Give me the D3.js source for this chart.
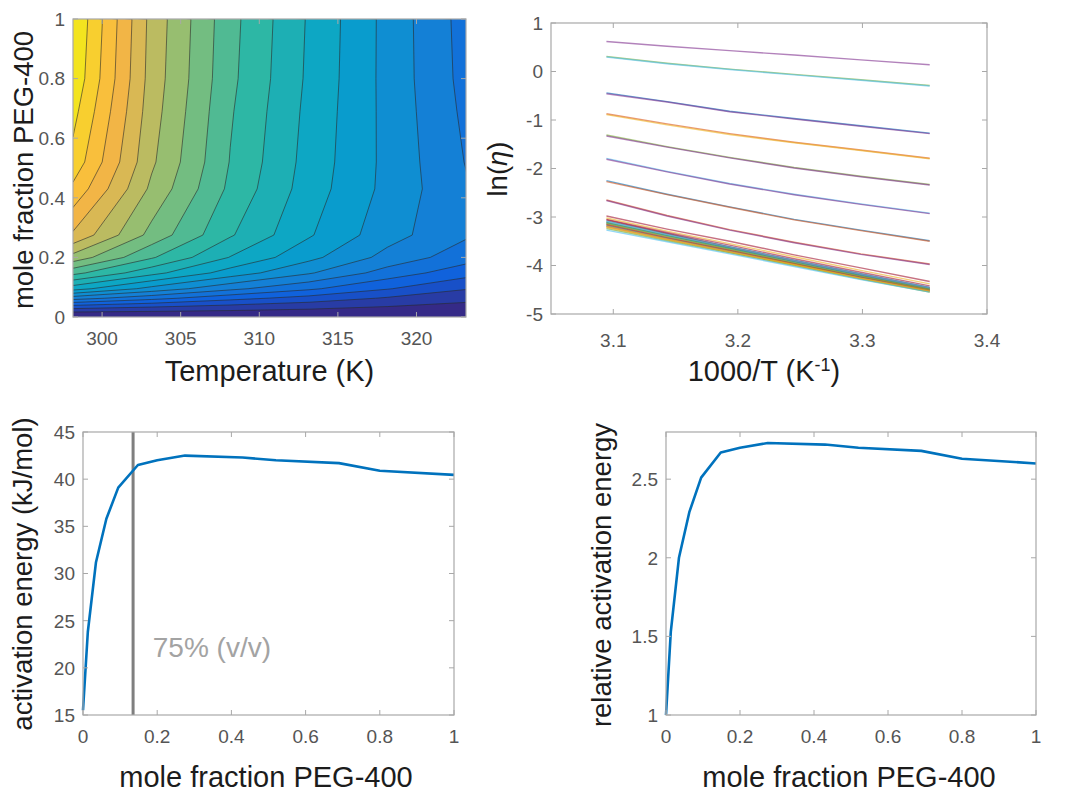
<!DOCTYPE html>
<html>
<head>
<meta charset="utf-8">
<script src="https://cdn.jsdelivr.net/npm/d3@7"></script>
<style>
  body { margin: 0; background: #fff; }
  svg { display: block; font-family: "Liberation Sans", Arial, Helvetica, sans-serif; }
</style>
</head>
<body>
<div class="container"></div>
<script>
// ---- data ----

// contour panel: temperatures (K) and mole fractions of PEG-400 of the grid
var temps = [298.15, 303.15, 308.15, 313.15, 318.15, 323.15];
var molFrac = [0, 0.013, 0.035, 0.063, 0.095, 0.148, 0.2, 0.275, 0.43, 0.52, 0.69, 0.8, 1];

// viscosity (mPa s), one row per temperature, one column per mole fraction
var viscosity = [
  [0.90, 3.0, 11.7, 24.5, 37.9, 50.9, 61.3, 71.3, 80.0, 84.0, 87.0, 89.0, 90.0],
  [0.80, 2.7, 9.5, 19.5, 30.0, 42.0, 50.0, 57.0, 62.0, 63.8, 65.0, 65.6, 66.0],
  [0.72, 2.5, 7.6, 15.0, 23.6, 34.0, 40.3, 45.5, 48.5, 49.3, 50.0, 50.6, 51.0],
  [0.65, 2.2, 6.0, 11.8, 18.8, 27.5, 32.8, 36.5, 38.3, 38.8, 39.3, 39.7, 40.0],
  [0.60, 2.0, 4.5, 8.5, 13.8, 20.6, 25.5, 28.8, 30.2, 30.3, 30.2, 30.1, 30.1],
  [0.55, 1.8, 3.2, 5.8, 9.3, 15.3, 20.0, 23.1, 23.0, 22.3, 21.5, 21.0, 20.7]
];
var contourLevels = [4.5, 9, 13.5, 18, 22.5, 27, 31.5, 36, 40.5, 45, 49.5, 54, 58.5, 63, 67.5, 72, 76.5, 81, 85.5];

// Arrhenius panel: 1000/T values and ln(eta) of each measured line
var invT = [3.0945, 3.1432, 3.1934, 3.2452, 3.2987, 3.3540];
var lnEta = [
  [-0.44, -0.62, -0.82, -0.97, -1.12, -1.27],
  [-0.87, -1.08, -1.28, -1.46, -1.62, -1.79],
  [-0.89, -1.10, -1.30, -1.47, -1.63, -1.80],
  [0.62, 0.52, 0.43, 0.34, 0.24, 0.14],
  [0.31, 0.17, 0.05, -0.06, -0.17, -0.29],
  [0.30, 0.16, 0.04, -0.07, -0.18, -0.30],
  [-2.98, -3.25, -3.50, -3.78, -4.05, -4.33],
  [-2.25, -2.53, -2.79, -3.05, -3.27, -3.49],
  [-2.27, -2.54, -2.80, -3.06, -3.28, -3.50],
  [-3.02, -3.29, -3.55, -3.82, -4.10, -4.38],
  [-0.46, -0.63, -0.83, -0.98, -1.13, -1.28],
  [-1.31, -1.55, -1.77, -1.98, -2.16, -2.33],
  [-1.79, -2.06, -2.31, -2.53, -2.73, -2.92],
  [-3.05, -3.32, -3.58, -3.86, -4.14, -4.42],
  [-3.08, -3.35, -3.61, -3.89, -4.17, -4.45],
  [-2.65, -2.97, -3.26, -3.52, -3.76, -3.97],
  [-3.10, -3.37, -3.63, -3.91, -4.19, -4.47],
  [-2.66, -2.98, -3.27, -3.53, -3.77, -3.98],
  [-3.12, -3.39, -3.65, -3.93, -4.21, -4.49],
  [-3.14, -3.41, -3.67, -3.95, -4.23, -4.50],
  [-3.16, -3.43, -3.69, -3.96, -4.24, -4.51],
  [-3.18, -3.44, -3.70, -3.97, -4.25, -4.52],
  [-3.20, -3.46, -3.72, -3.98, -4.26, -4.53],
  [-3.22, -3.47, -3.73, -3.99, -4.27, -4.54],
  [-1.81, -2.07, -2.32, -2.54, -2.74, -2.93],
  [-3.24, -3.49, -3.74, -4.00, -4.28, -4.55],
  [-3.27, -3.51, -3.76, -4.02, -4.29, -4.55],
  [-3.06, -3.34, -3.62, -3.90, -4.18, -4.46],
  [-3.11, -3.38, -3.64, -3.92, -4.20, -4.48],
  [-3.15, -3.42, -3.68, -3.96, -4.23, -4.50],
  [-3.19, -3.45, -3.71, -3.98, -4.26, -4.52],
  [-1.33, -1.56, -1.78, -1.99, -2.17, -2.34],
  [-3.13, -3.40, -3.66, -3.94, -4.22, -4.49],
  [-3.09, -3.36, -3.62, -3.90, -4.18, -4.46]
];

// activation energy vs mole fraction
var eaFrac = [0, 0.013, 0.035, 0.063, 0.095, 0.148, 0.2, 0.275, 0.43, 0.52, 0.69, 0.8, 1];
var activationEnergy = [15.5, 23.8, 31.2, 35.8, 39.1, 41.5, 42.0, 42.5, 42.3, 42.0, 41.7, 40.9, 40.45];
var relativeEnergy = [1.0, 1.53, 2.0, 2.29, 2.51, 2.67, 2.70, 2.73, 2.72, 2.70, 2.68, 2.63, 2.60];
var markerFrac = 0.135;   // 75% (v/v)

// tick values
var tempTicks = [300, 305, 310, 315, 320];
var fracTicks = [0, 0.2, 0.4, 0.6, 0.8, 1];
var invTTicks = [3.1, 3.2, 3.3, 3.4];
var lnTicks = [-5, -4, -3, -2, -1, 0, 1];
var eaTicks = [15, 20, 25, 30, 35, 40, 45];
var relTicks = [1, 1.5, 2, 2.5];

// ---- styles ----
// parula-like colormap, stop positions and colours
var parulaPos = [0, 0.125, 0.25, 0.375, 0.5, 0.625, 0.72, 0.8, 0.87, 0.94, 1];
var parulaCol = ["#352a87", "#0f5cdd", "#1481d6", "#06a4ca", "#2eb7a4", "#87bf77", "#cbba5b", "#f3b546", "#fcc338", "#f2e022", "#f9fb0e"];
var matlabColors = ["#0072bd", "#d95319", "#edb120", "#7e2f8e", "#77ac30", "#4dbeee", "#a2142f"];
var frameColor = "#a8a8a8";
var tickText = "#555";
var labelText = "#1c1c1c";

var svg = d3.select(".container").append("svg").attr("width", 1077).attr("height", 792);
var defs = svg.append("defs");

// draws the box, inward ticks on all four sides and tick labels
function drawAxes(x, y, xticks, yticks, xLabelY) {
  var x0 = x.range()[0], x1 = x.range()[1], yb = y.range()[0], yt = y.range()[1];
  var g = svg.append("g");
  g.append("rect")
    .attr("x", x0).attr("y", yt).attr("width", x1 - x0).attr("height", yb - yt)
    .attr("fill", "none").attr("stroke", frameColor).attr("stroke-width", 1.2);
  var tl = 5;
  xticks.forEach(function(v) {
    g.append("line").attr("x1", x(v)).attr("x2", x(v)).attr("y1", yb).attr("y2", yb - tl).attr("stroke", frameColor);
    g.append("line").attr("x1", x(v)).attr("x2", x(v)).attr("y1", yt).attr("y2", yt + tl).attr("stroke", frameColor);
    g.append("text").attr("x", x(v)).attr("y", xLabelY).attr("text-anchor", "middle")
      .attr("font-size", 19).attr("fill", tickText).text(String(v));
  });
  yticks.forEach(function(v) {
    g.append("line").attr("x1", x0).attr("x2", x0 + tl).attr("y1", y(v)).attr("y2", y(v)).attr("stroke", frameColor);
    g.append("line").attr("x1", x1).attr("x2", x1 - tl).attr("y1", y(v)).attr("y2", y(v)).attr("stroke", frameColor);
    g.append("text").attr("x", x0 - 8).attr("y", y(v)).attr("dy", "0.36em").attr("text-anchor", "end")
      .attr("font-size", 19).attr("fill", tickText).text(String(v));
  });
  return g;
}

function xLabel(cx, y, txt) {
  return svg.append("text").attr("x", cx).attr("y", y).attr("text-anchor", "middle")
    .attr("font-size", 29).attr("fill", labelText).text(txt);
}

function yLabel(x, cy, txt) {
  return svg.append("text").attr("transform", "translate(" + x + "," + cy + ") rotate(-90)")
    .attr("text-anchor", "middle").attr("font-size", 27.5).attr("fill", labelText).text(txt);
}

// ================= panel 1: filled contour =================
var xT = d3.scaleLinear().domain([298.15, 323.15]).range([73, 466]);
var yF = d3.scaleLinear().domain([0, 1]).range([317, 19]);

var nT = temps.length, nX = molFrac.length;
var grid = [];
for (var j = 0; j < nX; j++) {
  for (var i = 0; i < nT; i++) grid.push(viscosity[i][j]);
}
var zMin = d3.min(grid), zMax = d3.max(grid);
var parula = d3.scaleLinear().domain(parulaPos).range(parulaCol).interpolate(d3.interpolateRgb);
var zColor = function(v) { return parula((v - zMin) / (zMax - zMin)); };

// grid coordinates -> pixels (grid node k sits at k + 0.5, borders pushed just outside the frame)
var gx = d3.scaleLinear()
  .domain([0].concat(temps.map(function(d, k) { return k + 0.5; }), [nT]))
  .range([xT(temps[0]) - 4].concat(temps.map(xT), [xT(temps[nT - 1]) + 4]));
var gy = d3.scaleLinear()
  .domain([0].concat(molFrac.map(function(d, k) { return k + 0.5; }), [nX]))
  .range([yF(molFrac[0]) + 4].concat(molFrac.map(yF), [yF(molFrac[nX - 1]) - 4]));
var gridPath = d3.geoPath(d3.geoTransform({
  point: function(x, y) { this.stream.point(gx(x), gy(y)); }
}));

defs.append("clipPath").attr("id", "clip1").append("rect")
  .attr("x", 73).attr("y", 19).attr("width", 466 - 73).attr("height", 317 - 19);

var cg = svg.append("g").attr("clip-path", "url(#clip1)");
cg.append("rect").attr("x", 73).attr("y", 19).attr("width", 393).attr("height", 298).attr("fill", zColor(zMin));

var bands = d3.contours().size([nT, nX]).thresholds(contourLevels)(grid);
cg.selectAll("path.band")
  .data(bands)
  .enter().append("path")
  .attr("class", "band")
  .attr("d", gridPath)
  .attr("fill", function(d) { return zColor(d.value); })
  .attr("stroke", "#2a2a2a")
  .attr("stroke-opacity", 0.75)
  .attr("stroke-width", 0.8);

drawAxes(xT, yF, tempTicks, fracTicks, 345);
xLabel(269.5, 381, "Temperature (K)");
yLabel(33, 170, "mole fraction PEG-400");

// ================= panel 2: ln(eta) vs 1000/T =================
var xI = d3.scaleLinear().domain([3.05, 3.4]).range([551, 987]);
var yL = d3.scaleLinear().domain([-5, 1]).range([314, 23]);

var lnLine = d3.line()
  .x(function(d, k) { return xI(invT[k]); })
  .y(function(d) { return yL(d); });

svg.append("g").selectAll("path")
  .data(lnEta)
  .enter().append("path")
  .attr("d", lnLine)
  .attr("fill", "none")
  .attr("stroke", function(d, k) { return matlabColors[k % matlabColors.length]; })
  .attr("stroke-opacity", 0.6)
  .attr("stroke-width", 1.4);

drawAxes(xI, yL, invTTicks, lnTicks, 347);
var t2 = svg.append("text").attr("x", 764).attr("y", 381).attr("text-anchor", "middle")
  .attr("font-size", 29).attr("fill", labelText);
t2.append("tspan").text("1000/T (K");
t2.append("tspan").attr("font-size", 18).attr("dy", -10).text("-1");
t2.append("tspan").attr("dy", 10).text(")");
var t2y = svg.append("text").attr("transform", "translate(507,169) rotate(-90)")
  .attr("text-anchor", "middle").attr("font-size", 27.5).attr("fill", labelText);
t2y.append("tspan").text("ln(");
t2y.append("tspan").attr("font-style", "italic").text("η");
t2y.append("tspan").text(")");

// ================= panel 3: activation energy =================
var xM3 = d3.scaleLinear().domain([0, 1]).range([83, 454]);
var yE = d3.scaleLinear().domain([15, 45]).range([715, 432]);

svg.append("line")
  .attr("x1", xM3(markerFrac)).attr("x2", xM3(markerFrac))
  .attr("y1", yE(15)).attr("y2", yE(45))
  .attr("stroke", "#7f7f7f").attr("stroke-width", 3);

svg.append("path")
  .datum(activationEnergy)
  .attr("d", d3.line().x(function(d, k) { return xM3(eaFrac[k]); }).y(function(d) { return yE(d); }))
  .attr("fill", "none").attr("stroke", "#0072bd").attr("stroke-width", 2.6).attr("stroke-linejoin", "round");

svg.append("text").attr("x", xM3(0.188)).attr("y", yE(21.1))
  .attr("font-size", 28).attr("fill", "#a3a3a3").text("75% (v/v)");

drawAxes(xM3, yE, fracTicks, eaTicks, 743);
xLabel(266, 787, "mole fraction PEG-400");
yLabel(32, 574, "activation energy (kJ/mol)");

// ================= panel 4: relative activation energy =================
var xM4 = d3.scaleLinear().domain([0, 1]).range([666, 1036]);
var yR = d3.scaleLinear().domain([1, 2.8]).range([715, 432]);

svg.append("path")
  .datum(relativeEnergy)
  .attr("d", d3.line().x(function(d, k) { return xM4(eaFrac[k]); }).y(function(d) { return yR(d); }))
  .attr("fill", "none").attr("stroke", "#0072bd").attr("stroke-width", 2.6).attr("stroke-linejoin", "round");

drawAxes(xM4, yR, fracTicks, relTicks, 743);
xLabel(849, 787, "mole fraction PEG-400");
yLabel(611, 575, "relative activation energy");
</script>
</body>
</html>
